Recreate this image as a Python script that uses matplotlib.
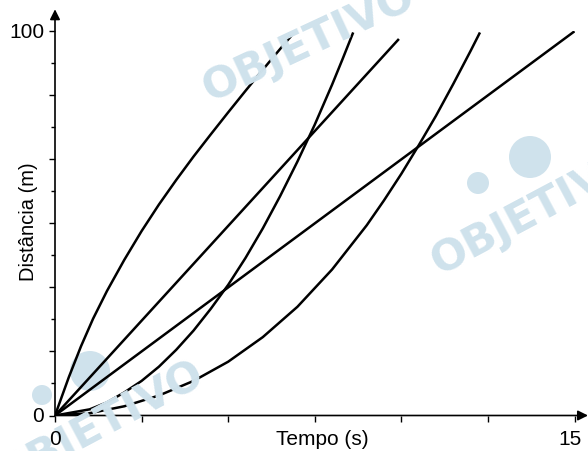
import matplotlib
matplotlib.use("Agg")
import matplotlib.pyplot as plt
from matplotlib.patches import Circle
from matplotlib.transforms import IdentityTransform

plt.rcParams['font.family'] = ['Liberation Sans', 'DejaVu Sans']

# Distance (m) against time (s) for five moving bodies
t_fast = [0, 0.4, 0.75, 1.1, 1.5, 2.0, 2.5, 3.0, 3.5, 4.0, 4.5, 5.0, 5.5, 6.0, 6.5, 6.83]
d_fast = [0, 10.0, 18.0, 25.2, 32.4, 40.5, 48.0, 54.9, 61.3, 67.4, 73.2, 78.9, 84.5, 90.0, 95.4, 98.9]

t_accel = [0, 1.0, 1.5, 2.0, 2.5, 3.0, 3.5, 4.0, 4.5, 5.0, 5.5, 6.0, 6.5, 7.0, 7.5, 8.0, 8.3, 8.61]
d_accel = [0, 1.6, 3.4, 6.0, 9.0, 12.7, 17.1, 22.1, 27.8, 34.0, 41.0, 48.7, 57.1, 66.1, 75.7, 86.1, 92.7, 99.7]

t_line_a = [0, 9.93]
d_line_a = [0, 98.0]

t_slow = [0, 1.0, 2.0, 3.0, 4.0, 5.0, 6.0, 7.0, 8.0, 9.0, 9.5, 10.0, 10.5, 11.0, 11.5, 12.0, 12.27]
d_slow = [0, 0.6, 2.4, 5.2, 9.0, 14.0, 20.4, 28.3, 38.0, 49.5, 56.0, 62.9, 70.3, 78.0, 86.3, 94.9, 99.7]

t_line_b = [0, 15.0]
d_line_b = [0, 100.0]

x_ticks = [0, 2.5, 5, 7.5, 10, 12.5, 15]
y_major = [0, 100 / 6, 200 / 6, 50, 400 / 6, 500 / 6, 100]
y_minor = [100 / 12, 300 / 12, 500 / 12, 700 / 12, 900 / 12, 1100 / 12]

W, H = 588, 452
fig = plt.figure(figsize=(W / 100, H / 100), dpi=100)
x0, x1 = 55, 574.5
y0, y1 = 416.5, 32.3
ax = fig.add_axes([x0 / W, (H - y0) / H, (x1 - x0) / W, (y0 - y1) / H])
ax.set_xlim(0, 15)
ax.set_ylim(0, 100)

# faint watermark: wordmark plus round emblem
wm_color = '#cfe2ec'
for (xf, yf, rot) in [(0.525, 0.905, 25), (0.91, 0.533, 28), (0.17, 0.06, 28)]:
    fig.text(xf, yf, 'OBJETIVO', color=wm_color, fontsize=31, fontweight='heavy',
             family='DejaVu Sans', rotation=rot, ha='center', va='center', zorder=0)
for (cx, cy, r) in [(530, 158, 21), (478, 184, 11), (90, 372, 20), (42, 396, 10)]:
    fig.add_artist(Circle((cx, H - cy), r, transform=IdentityTransform(),
                          facecolor=wm_color, edgecolor='none', zorder=0))

lw = 1.8
for t, d in [(t_fast, d_fast), (t_accel, d_accel), (t_line_a, d_line_a),
             (t_slow, d_slow), (t_line_b, d_line_b)]:
    ax.plot(t, d, color='black', lw=lw, solid_capstyle='butt', solid_joinstyle='round', zorder=3)

for s in ax.spines.values():
    s.set_visible(False)
ax.patch.set_alpha(0)

# axes with arrow heads
ax.annotate('', xy=(1.0 + 13.5 / 519.5, 0), xycoords=('axes fraction', 'data'),
            xytext=(0, 0), textcoords='data',
            arrowprops=dict(arrowstyle='-|>', color='black', lw=1.2,
                            mutation_scale=15, shrinkA=0, shrinkB=0), annotation_clip=False)
ax.annotate('', xy=(0, 1.0 + 22 / 384.2), xycoords=('data', 'axes fraction'),
            xytext=(0, 0), textcoords='data',
            arrowprops=dict(arrowstyle='-|>', color='black', lw=1.2,
                            mutation_scale=15, shrinkA=0, shrinkB=0), annotation_clip=False)

ax.set_xticks(x_ticks)
ax.set_xticklabels([])
ax.set_yticks(y_major)
ax.set_yticklabels([])
ax.set_yticks(y_minor, minor=True)
ax.tick_params(axis='x', direction='out', length=4, width=1.0)
ax.tick_params(axis='y', which='major', direction='out', length=4, width=1.0)
ax.tick_params(axis='y', which='minor', direction='out', length=3, width=1.0)

fs = 15
fig.text(27 / W, 1 - 32 / H, '100', fontsize=fs, ha='center', va='center')
fig.text(38 / W, 1 - 417 / H, '0', fontsize=fs, ha='center', va='center')
fig.text(55 / W, 1 - 440 / H, '0', fontsize=fs, ha='center', va='center')
fig.text(570 / W, 1 - 440 / H, '15', fontsize=fs, ha='center', va='center')
fig.text(322 / W, 1 - 440 / H, 'Tempo (s)', fontsize=fs, ha='center', va='center')
fig.text(28 / W, 1 - 222 / H, 'Distância (m)', fontsize=14.5, ha='center', va='center',
         rotation=90)

fig.savefig('out.png', dpi=100)
